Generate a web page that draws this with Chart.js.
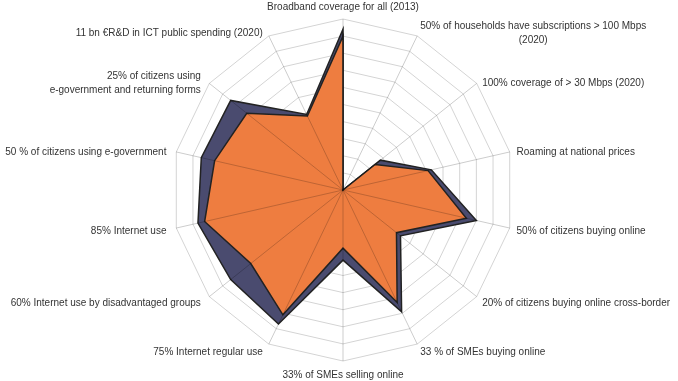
<!DOCTYPE html>
<html>
<head>
<meta charset="utf-8">
<script src="https://cdn.jsdelivr.net/npm/chart.js@4/dist/chart.umd.min.js"></script>
<style>
  html, body { margin: 0; padding: 0; background: #fff; }
  #wrap { width: 678px; height: 381px; }
</style>
</head>
<body>
<div id="wrap"><canvas id="radarChart"></canvas></div>
<script>
// Digital agenda indicators
const indicators = [
    'Broadband coverage for all (2013)',
    ['50% of households have subscriptions > 100 Mbps', '(2020)'],
    '100% coverage of > 30 Mbps (2020)',
    'Roaming at national prices',
    '50% of citizens buying online',
    '20% of citizens buying online cross-border',
    '33 % of SMEs buying online',
    '33% of SMEs selling online',
    '75% Internet regular use',
    '60% Internet use by disadvantaged groups',
    '85% Internet use',
    '50 % of citizens using e-government',
    ['25% of citizens using', 'e-government and returning forms'],
    '11 bn \u20acR&D in ICT public spending (2020)'
];

// back series (navy) and front series (orange), % of target
const navyValues = [94, 0, 28, 53, 80, 43, 79, 41, 87, 84, 87, 85, 84, 49];
const orangeValues = [90, 0, 24, 51, 74, 40, 73, 34, 81, 69, 83, 77, 72, 48];

// spokes are drawn over the filled areas
const spokePlugin = {
    id: 'spokes',
    afterDatasetsDraw(chart) {
        const s = chart.scales.r;
        const ctx = chart.ctx;
        ctx.save();
        ctx.strokeStyle = 'rgba(0,0,0,0.2)';
        ctx.lineWidth = 1;
        for (let i = 0; i < chart.data.labels.length; i++) {
            const p = s.getPointPosition(i, s.drawingArea);
            ctx.beginPath();
            ctx.moveTo(s.xCenter, s.yCenter);
            ctx.lineTo(p.x, p.y);
            ctx.stroke();
        }
        ctx.restore();
    }
};

// labels centred on their spoke, like the original
const labelPlugin = {
    id: 'axisLabels',
    afterDraw(chart) {
        const s = chart.scales.r;
        const ctx = chart.ctx;
        const lineH = 14;
        ctx.save();
        ctx.font = '10px "Liberation Sans"';
        ctx.fillStyle = '#333333';
        ctx.textBaseline = 'middle';
        chart.data.labels.forEach((label, i) => {
            const lines = Array.isArray(label) ? label : [label];
            const p = s.getPointPosition(i, s.drawingArea + 7);
            const dx = p.x - s.xCenter;
            const blockH = lines.length * lineH;
            let y0 = p.y - blockH / 2 + lineH / 2 + 2;
            if (Math.abs(dx) < 1) {
                y0 += p.y < s.yCenter ? -7 : 5;
            } else if (p.y < s.yCenter - 50) {
                y0 += 2;
            }
            const maxW = Math.max(...lines.map(l => ctx.measureText(l).width));
            lines.forEach((l, k) => {
                const y = y0 + k * lineH;
                if (Math.abs(dx) < 1) {
                    ctx.textAlign = 'center';
                    ctx.fillText(l, p.x, y);
                } else if (dx > 0) {
                    ctx.textAlign = 'center';
                    ctx.fillText(l, p.x + maxW / 2, y);
                } else {
                    ctx.textAlign = 'right';
                    ctx.fillText(l, p.x - 3, y);
                }
            });
        });
        ctx.restore();
    }
};

document.addEventListener('DOMContentLoaded', () => {
    const ctx = document.getElementById('radarChart').getContext('2d');
    new Chart(ctx, {
        type: 'radar',
        data: {
            labels: indicators,
            datasets: [{
                data: orangeValues,
                backgroundColor: '#ee7d40',
                borderColor: '#222222',
                borderWidth: 1.5,
                pointRadius: 0,
                fill: true
            }, {
                data: navyValues,
                backgroundColor: '#4a4b6f',
                borderColor: '#222222',
                borderWidth: 1.5,
                pointRadius: 0,
                fill: true
            }]
        },
        options: {
            responsive: true,
            maintainAspectRatio: false,
            animation: false,
            layout: { padding: { top: 19, bottom: 20, left: 8, right: 0 } },
            plugins: {
                legend: { display: false },
                tooltip: { enabled: false }
            },
            elements: { line: { tension: 0 } },
            scales: {
                r: {
                    min: 0,
                    max: 100,
                    ticks: { display: false, stepSize: 10 },
                    grid: { color: '#d4d4d4', lineWidth: 1 },
                    angleLines: { display: false },
                    pointLabels: { display: false }
                }
            }
        },
        plugins: [spokePlugin, labelPlugin]
    });
});
</script>
</body>
</html>
